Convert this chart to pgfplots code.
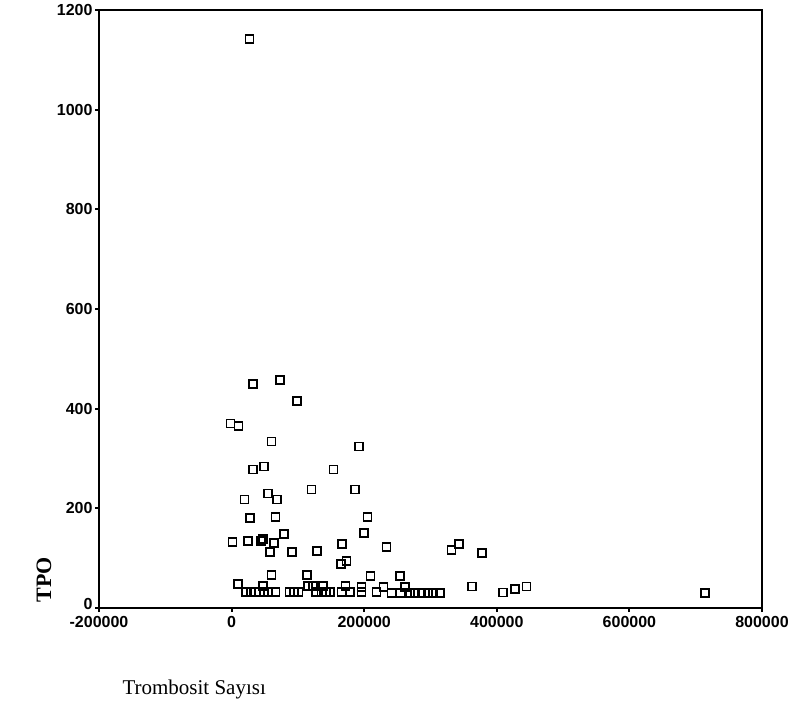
\documentclass[border=0pt]{standalone}
\usepackage{fontspec}
\setmainfont{Liberation Serif}
\newfontfamily\tickfont{Liberation Sans}
\usepackage{pgfplots}
\pgfplotsset{compat=1.18}
\begin{document}
\begin{tikzpicture}
\path[use as bounding box] (0pt,0pt) rectangle (800pt,713pt);
\begin{axis}[
  at={(99pt,105pt)}, anchor=south west,
  scale only axis, width=663pt, height=598pt,
  xmin=-200000, xmax=800000, ymin=0, ymax=1200,
  scaled x ticks=false, scaled y ticks=false,
  axis line style={line width=1.6pt},
  xtick={-200000,0,200000,400000,600000,800000},
  xticklabels={-200000,0,200000,400000,600000,800000},
  ytick={0,200,400,600,800,1000,1200},
  yticklabels={\raisebox{8pt}{0},200,400,600,800,1000,1200},
  tick align=outside, major tick length=4pt,
  tick style={line width=2pt, black},
  xtick pos=bottom, ytick pos=left,
  ticklabel style={font=\tickfont\bfseries\fontsize{16}{16}\selectfont},
  xticklabel style={yshift=-1pt},
  yticklabel style={xshift=1pt},
  clip=false,
]
\addplot[only marks, mark=square, mark size=4pt, mark options={line width=1.7pt, black, fill=white}] coordinates {
(27000,1142)
(32000,450) (73500,458) (99000,415)
(-1500,370) (10500,365)
(60400,334) (192200,324)
(32000,278) (48800,284) (153500,278)
(120300,238) (185700,238)
(19600,218) (54800,230) (68400,218)
(28200,180) (66400,183) (204800,183)
(199200,150) (79000,148)
(1500,132) (24600,134) (44800,134) (47500,138) (64400,130)
(58400,112) (91000,112) (128800,114) (166500,128) (233500,123)
(331700,116) (343100,128) (377800,110)
(165000,88) (173100,95)
(60400,66) (113700,66) (209400,64) (254000,64)
(9500,48) (47200,44) (115200,44) (122700,44) (137800,44) (171600,44)
(195800,42) (229000,42) (261100,42) (362700,43) (427700,38) (444900,43)
(22200,32) (29700,32) (36200,32) (42300,32) (48800,32) (54800,32)
(66000,32) (87500,32) (94000,32) (101100,32) (127800,32) (135400,32)
(142900,32) (147900,32) (165600,32) (178100,32) (195800,32) (218400,32)
(241000,30) (254600,30) (268700,30) (276200,30) (286300,30) (296000,30)
(303900,30) (314000,30) (409500,31) (714000,30)
};
\end{axis}
\node[rotate=90, font=\fontsize{22}{22}\selectfont\bfseries] at (44pt,133pt) {TPO};
\node[anchor=west, font=\fontsize{21}{21}\selectfont] at (119pt,24pt) {Trombosit Sayısı};
\end{tikzpicture}
\end{document}
